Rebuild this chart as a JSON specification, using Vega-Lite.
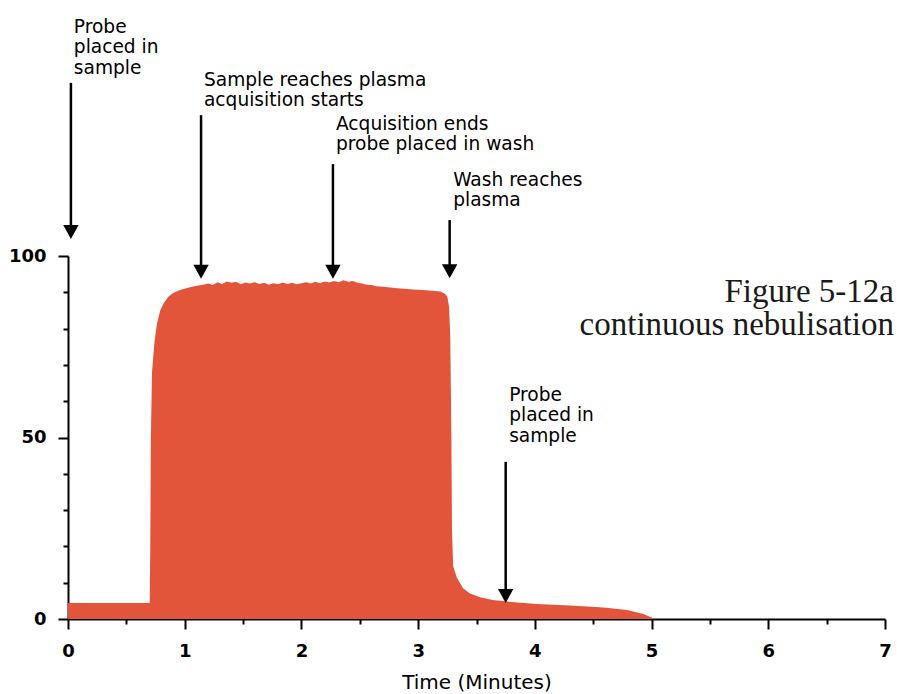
{
  "$schema": "https://vega.github.io/schema/vega-lite/v6.json",
  "width": 817,
  "height": 363,
  "autosize": {"type": "none"},
  "padding": {"left": 68, "top": 256, "right": 12, "bottom": 75},
  "background": "white",
  "config": {
    "view": {"stroke": null},
    "axis": {"labelOverlap": false, "labelFont": "DejaVu Sans", "labelFontSize": 18, "labelColor": "black", "titleFont": "DejaVu Sans", "titleColor": "black", "grid": false}
  },
  "resolve": {"axis": {"x": "independent", "y": "independent"}},
  "datasets": {
    "curve": [
      {"t": 0.0, "v": 4.4}, {"t": 0.70, "v": 4.4}, {"t": 0.705, "v": 20}, {"t": 0.71, "v": 50},
      {"t": 0.72, "v": 68}, {"t": 0.74, "v": 76}, {"t": 0.76, "v": 81}, {"t": 0.79, "v": 85},
      {"t": 0.82, "v": 87}, {"t": 0.86, "v": 88.8}, {"t": 0.90, "v": 89.8}, {"t": 0.96, "v": 90.6},
      {"t": 1.02, "v": 91.2}, {"t": 1.10, "v": 91.8}, {"t": 1.15, "v": 92.0}, {"t": 1.20, "v": 92.4},
      {"t": 1.24, "v": 92.0}, {"t": 1.28, "v": 92.8}, {"t": 1.32, "v": 92.3}, {"t": 1.36, "v": 93.0},
      {"t": 1.40, "v": 92.6}, {"t": 1.44, "v": 92.9}, {"t": 1.48, "v": 92.2}, {"t": 1.52, "v": 92.7},
      {"t": 1.56, "v": 92.4}, {"t": 1.60, "v": 92.8}, {"t": 1.64, "v": 92.3}, {"t": 1.68, "v": 92.6},
      {"t": 1.72, "v": 92.1}, {"t": 1.76, "v": 92.5}, {"t": 1.80, "v": 92.2}, {"t": 1.84, "v": 92.7},
      {"t": 1.88, "v": 92.3}, {"t": 1.92, "v": 92.6}, {"t": 1.96, "v": 92.2}, {"t": 2.00, "v": 92.5},
      {"t": 2.04, "v": 92.8}, {"t": 2.08, "v": 92.4}, {"t": 2.12, "v": 92.9}, {"t": 2.16, "v": 92.5},
      {"t": 2.20, "v": 93.0}, {"t": 2.24, "v": 92.7}, {"t": 2.28, "v": 93.1}, {"t": 2.32, "v": 92.8},
      {"t": 2.36, "v": 93.3}, {"t": 2.40, "v": 92.9}, {"t": 2.44, "v": 93.1}, {"t": 2.48, "v": 92.6},
      {"t": 2.52, "v": 92.4}, {"t": 2.56, "v": 92.1}, {"t": 2.60, "v": 92.0}, {"t": 2.64, "v": 91.7},
      {"t": 2.70, "v": 91.5}, {"t": 2.76, "v": 91.3}, {"t": 2.82, "v": 91.1}, {"t": 2.88, "v": 91.0},
      {"t": 2.96, "v": 90.8}, {"t": 3.04, "v": 90.6}, {"t": 3.12, "v": 90.4}, {"t": 3.19, "v": 90.2},
      {"t": 3.23, "v": 89.6}, {"t": 3.25, "v": 88.8}, {"t": 3.265, "v": 86}, {"t": 3.275, "v": 78},
      {"t": 3.285, "v": 50}, {"t": 3.29, "v": 25}, {"t": 3.30, "v": 14.5}, {"t": 3.33, "v": 11.5},
      {"t": 3.385, "v": 8.5}, {"t": 3.44, "v": 7.1}, {"t": 3.53, "v": 6.0}, {"t": 3.64, "v": 5.2},
      {"t": 3.76, "v": 4.8}, {"t": 4.02, "v": 4.1}, {"t": 4.30, "v": 3.7}, {"t": 4.59, "v": 3.2},
      {"t": 4.79, "v": 2.5}, {"t": 4.93, "v": 1.4}, {"t": 5.03, "v": 0}
    ],
    "arrows": [
      {"t": 0.025, "tail": 147.7, "tip": 104.7, "end": 107.0},
      {"t": 1.14, "tail": 138.8, "tip": 93.7, "end": 96.0},
      {"t": 2.27, "tail": 125.3, "tip": 93.7, "end": 96.0},
      {"t": 3.27, "tail": 109.9, "tip": 93.9, "end": 96.2},
      {"t": 3.75, "tail": 43.3, "tip": 4.4, "end": 6.7}
    ],
    "notes": [
      {"t": 0.05, "v": 165.6, "label": ["Probe", "placed in", "sample"]},
      {"t": 1.165, "v": 151.0, "label": ["Sample reaches plasma", "acquisition starts"]},
      {"t": 2.296, "v": 138.9, "label": ["Acquisition ends", "probe placed in wash"]},
      {"t": 3.30, "v": 123.5, "label": ["Wash reaches", "plasma"]},
      {"t": 3.78, "v": 64.2, "label": ["Probe", "placed in", "sample"]}
    ],
    "caption": [
      {"t": 7.077, "v": 94.6, "label": ["Figure 5-12a", "continuous nebulisation"]}
    ]
  },
  "layer": [
    {
      "data": {"name": "curve"},
      "mark": {"type": "area", "color": "#e2553a", "opacity": 1, "interpolate": "linear"},
      "encoding": {
        "x": {
          "field": "t", "type": "quantitative",
          "scale": {"domain": [0, 7], "nice": false, "zero": false},
          "axis": {
            "title": "Time (Minutes)",
            "values": [0, 0.5, 1, 1.5, 2, 2.5, 3, 3.5, 4, 4.5, 5, 5.5, 6, 6.5, 7],
            "labelExpr": "datum.value % 1 === 0 ? format(datum.value, 'd') : ''",
            "tickSize": {"condition": {"test": "datum.value % 1 === 0", "value": 10}, "value": 5},
            "tickWidth": 2, "tickColor": "black",
            "domainWidth": 2, "domainColor": "black",
            "grid": false,
            "labelFont": "DejaVu Sans", "labelFontSize": 18, "labelFontWeight": "bold", "labelColor": "black",
            "labelPadding": 13, "labelFlush": false, "labelOverlap": false, "labelBound": false,
            "titleFont": "DejaVu Sans", "titleFontSize": 20, "titleFontWeight": "normal",
            "titleColor": "black", "titlePadding": 12
          }
        },
        "y": {
          "field": "v", "type": "quantitative",
          "scale": {"domain": [0, 100], "nice": false, "zero": true},
          "axis": {
            "title": null,
            "values": [0, 10, 20, 30, 40, 50, 60, 70, 80, 90, 100],
            "labelExpr": "datum.value % 50 === 0 ? format(datum.value, 'd') : ''",
            "tickSize": {"condition": {"test": "datum.value % 50 === 0", "value": 10}, "value": 5},
            "tickWidth": 2, "tickColor": "black",
            "domainWidth": 2, "domainColor": "black",
            "grid": false,
            "labelFont": "DejaVu Sans", "labelFontSize": 18, "labelFontWeight": "bold", "labelColor": "black",
            "labelPadding": 12, "labelFlush": false, "labelOverlap": false, "labelBound": false
          }
        }
      }
    },
    {
      "data": {"name": "arrows"},
      "mark": {"type": "rule", "color": "black", "strokeWidth": 2.5},
      "encoding": {
        "x": {"field": "t", "type": "quantitative", "axis": null},
        "y": {"field": "tail", "type": "quantitative", "axis": null},
        "y2": {"field": "end"}
      }
    },
    {
      "data": {"name": "arrows"},
      "mark": {"type": "point", "shape": "M-0.55,-1L0.55,-1L0,0Z", "size": 784, "filled": true, "color": "black", "opacity": 1, "strokeWidth": 0},
      "encoding": {
        "x": {"field": "t", "type": "quantitative", "axis": null},
        "y": {"field": "tip", "type": "quantitative", "axis": null}
      }
    },
    {
      "data": {"name": "notes"},
      "mark": {"type": "text", "align": "left", "baseline": "top", "font": "DejaVu Sans", "fontSize": 18.6, "lineHeight": 20.5, "color": "black"},
      "encoding": {
        "x": {"field": "t", "type": "quantitative", "axis": null},
        "y": {"field": "v", "type": "quantitative", "axis": null},
        "text": {"field": "label"}
      }
    },
    {
      "data": {"name": "caption"},
      "mark": {"type": "text", "align": "right", "baseline": "top", "font": "Liberation Serif", "fontSize": 33, "lineHeight": 33, "color": "#1a1a1a"},
      "encoding": {
        "x": {"field": "t", "type": "quantitative", "axis": null},
        "y": {"field": "v", "type": "quantitative", "axis": null},
        "text": {"field": "label"}
      }
    }
  ]
}
